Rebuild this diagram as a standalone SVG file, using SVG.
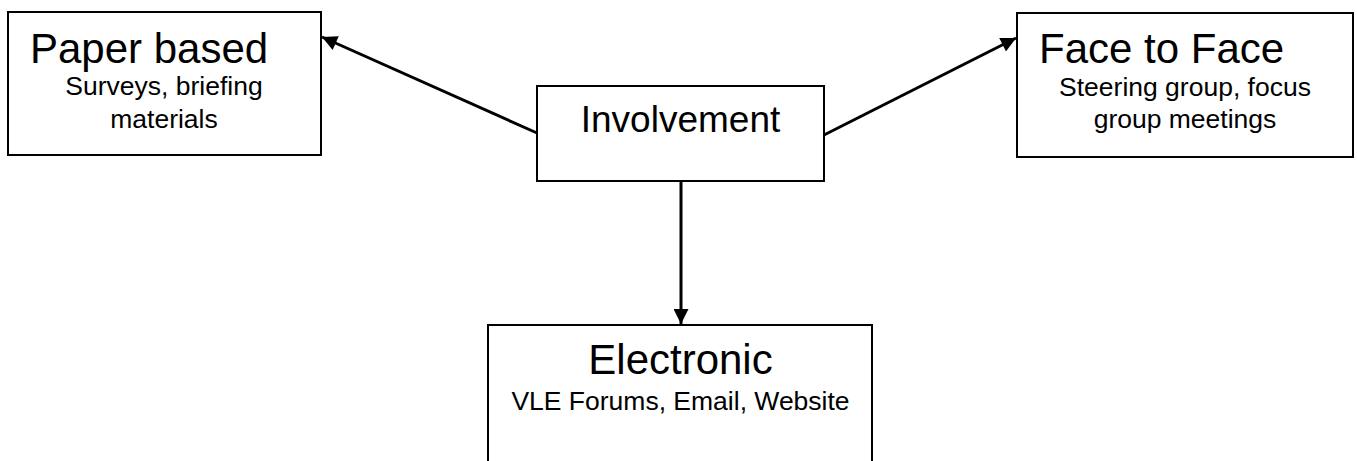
<svg xmlns="http://www.w3.org/2000/svg" width="1357" height="461" viewBox="0 0 1357 461">
  <style>
    .box { fill: #ffffff; stroke: #000000; stroke-width: 2; }
    .title { font-family: "Liberation Sans", Arial, sans-serif; font-size: 42px; fill: #000000; }
    .sub { font-family: "Liberation Sans", Arial, sans-serif; font-size: 26.5px; fill: #000000; text-anchor: middle; }
    .link { stroke: #000000; stroke-width: 3; fill: none; marker-end: url(#arrow); }
  </style>
  <defs>
    <marker id="arrow" viewBox="0 0 10 10" refX="10" refY="5" markerWidth="5.5" markerHeight="5" orient="auto" markerUnits="strokeWidth">
      <path d="M0,0 L10,5 L0,10 z" fill="#000000"/>
    </marker>
  </defs>
  <rect width="1357" height="461" fill="#ffffff"/>

  <g id="paper-based">
    <rect class="box" x="8" y="12" width="313" height="143"/>
    <text class="title" x="30" y="63">Paper based</text>
    <text class="sub" x="164" y="95">Surveys, briefing</text>
    <text class="sub" x="164" y="128">materials</text>
  </g>

  <g id="face-to-face">
    <rect class="box" x="1017" y="13" width="336" height="144"/>
    <text class="title" x="1039" y="63">Face to Face</text>
    <text class="sub" x="1185" y="96">Steering group, focus</text>
    <text class="sub" x="1185" y="128">group meetings</text>
  </g>

  <g id="involvement">
    <rect class="box" x="537" y="86" width="287" height="95"/>
    <text class="title" x="680.5" y="132" style="font-size:37px" text-anchor="middle">Involvement</text>
  </g>

  <g id="electronic">
    <rect class="box" x="488" y="325" width="384" height="150"/>
    <text class="title" x="680.5" y="374" text-anchor="middle">Electronic</text>
    <text class="sub" x="680.5" y="410">VLE Forums, Email, Website</text>
  </g>

  <g id="connectors">
    <line class="link" x1="537" y1="133" x2="322" y2="37"/>
    <line class="link" x1="824" y1="135" x2="1016" y2="38"/>
    <line class="link" x1="681" y1="181" x2="681" y2="324"/>
  </g>
</svg>
